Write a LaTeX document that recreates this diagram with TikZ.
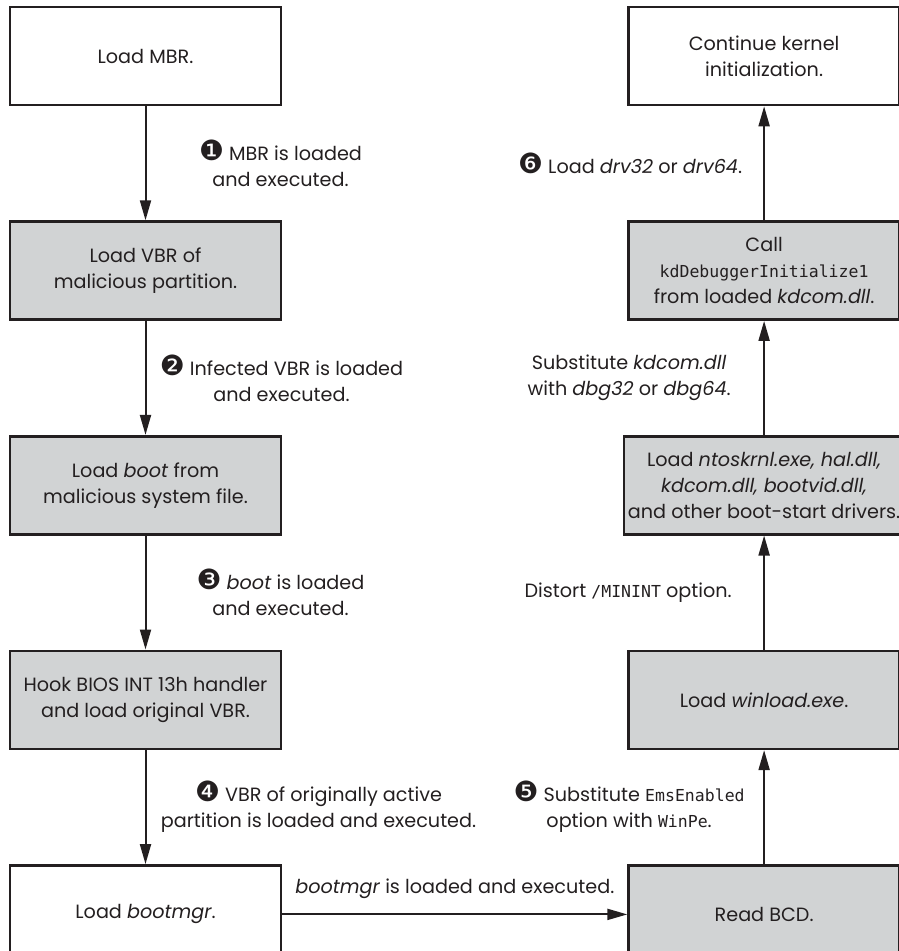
\documentclass[tikz,border=0pt]{standalone}
\usepackage{fontspec}
\setmainfont{Poppins}
\setmonofont{DejaVu Sans Mono}[Scale=0.86]
\newfontfamily\dingfont{DejaVu Sans}[Scale=1.45]
\usetikzlibrary{positioning,arrows.meta}
\definecolor{ink}{HTML}{231F20}
\definecolor{shade}{HTML}{D1D3D4}
\newcommand{\mk}[1]{{\dingfont #1}}
\tikzset{
    block/.style={rectangle, draw=ink, line width=1.3pt, minimum width=135.5pt, minimum height=49pt, align=center, text=ink, inner sep=2pt},
    plain/.style={block, fill=white},
    infected/.style={block, fill=shade},
    note/.style={align=center, text=ink, inner sep=0pt},
    arrow/.style={-{Triangle[length=10pt,width=5.5pt]}, line width=1pt, draw=ink}
}

\begin{document}
\begin{tikzpicture}[node distance=57pt, font=\fontsize{9.6}{13}\selectfont]

\useasboundingbox (0,0) rectangle (449pt,-475.5pt);

% left column: boot chain going down
\node[plain] (mbr) at (72.75pt,-28pt) {Load MBR.};
\node[infected, below=of mbr] (vbr) {Load VBR of\\malicious partition.};
\node[infected, below=of vbr] (boot) {Load \textit{boot} from\\malicious system file.};
\node[infected, below=of boot] (hook) {Hook BIOS INT 13h handler\\and load original VBR.};
\node[plain, below=of hook] (bootmgr) {Load \textit{bootmgr}.};

% right column: going up
\node[infected, right=172.5pt of bootmgr] (bcd) {Read BCD.};
\node[infected, above=of bcd] (winload) {Load \textit{winload.exe}.};
\node[infected, above=of winload] (kernel) {Load \textit{ntoskrnl.exe, hal.dll,}\\\textit{kdcom.dll, bootvid.dll,}\\and other boot-start drivers.};
\node[infected, above=of kernel] (kdcall) {Call\\\texttt{kdDebuggerInitialize1}\\from loaded \textit{kdcom.dll}.};
\node[plain, above=of kdcall] (cont) {Continue kernel\\initialization.};

\draw[arrow] (mbr) -- node[note, xshift=67.5pt] {\mk{❶} MBR is loaded\\and executed.} (vbr);
\draw[arrow] (vbr) -- node[note, xshift=68pt] {\mk{❷} Infected VBR is loaded\\and executed.} (boot);
\draw[arrow] (boot) -- node[note, xshift=67.5pt] {\mk{❸} \textit{boot} is loaded\\and executed.} (hook);
\draw[arrow] (hook) -- node[note, xshift=86.5pt] {\mk{❹} VBR of originally active\\partition is loaded and executed.} (bootmgr);
\draw[arrow] (bootmgr) -- node[note, above=7.5pt] {\textit{bootmgr} is loaded and executed.} (bcd);
\draw[arrow] (bcd) -- node[note, xshift=-67.5pt] {\mk{❺} Substitute \texttt{EmsEnabled}\\option with \texttt{WinPe}.} (winload);
\draw[arrow] (winload) -- node[note, xshift=-68pt] {Distort \texttt{/MININT} option.} (kernel);
\draw[arrow] (kernel) -- node[note, xshift=-67.5pt] {Substitute \textit{kdcom.dll}\\with \textit{dbg32} or \textit{dbg64}.} (kdcall);
\draw[arrow] (kdcall) -- node[note, xshift=-67pt] {\mk{❻} Load \textit{drv32} or \textit{drv64}.} (cont);

\end{tikzpicture}
\end{document}
